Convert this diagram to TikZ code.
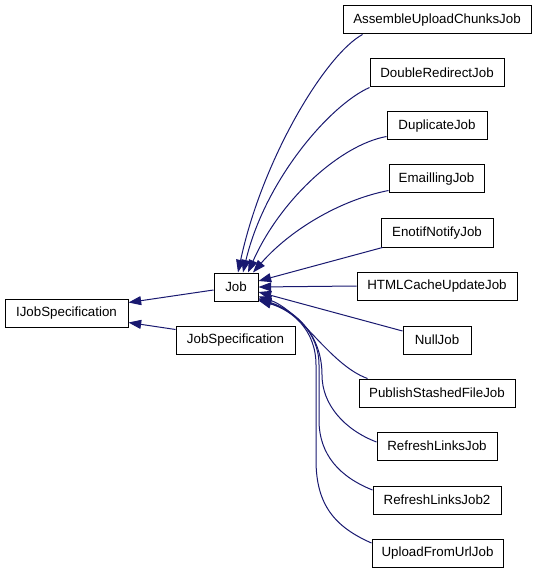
\documentclass[tikz,border=0pt]{standalone}
\usepackage{fontspec}
\setmainfont{Liberation Sans}
\usetikzlibrary{arrows.meta,calc}
\definecolor{edgeblue}{HTML}{191970}
\begin{document}
\begin{tikzpicture}[x=0.75pt,y=-0.75pt,
  box/.style={draw=black,line width=0.75pt,fill=white,inner sep=0pt,minimum height=21pt,font=\fontsize{10pt}{12pt}\selectfont},
  bw/.style={minimum width=#1*0.75pt},
  edge/.style={draw=edgeblue,line width=0.75pt,-{Triangle[length=9.5pt,width=6.75pt]}}]
\useasboundingbox (0,0) rectangle (536,573);
% nodes
\node[box,bw=123] (ijob) at (66.5,313) {IJobSpecification};
\node[box,bw=44] (job) at (236,287) {Job};
\node[box,bw=119] (jobspec) at (235.5,340) {JobSpecification};
\node[box,bw=188] (assemble) at (437,20) {AssembleUploadChunksJob};
\node[box,bw=134] (double) at (437,73) {DoubleRedirectJob};
\node[box,bw=100] (duplicate) at (437,126) {DuplicateJob};
\node[box,bw=95] (emailling) at (436.5,179) {EmaillingJob};
\node[box,bw=112] (enotif) at (437,233) {EnotifNotifyJob};
\node[box,bw=160] (html) at (437,286) {HTMLCacheUpdateJob};
\node[box,bw=68] (null) at (437,340) {NullJob};
\node[box,bw=156] (publish) at (437,393) {PublishStashedFileJob};
\node[box,bw=120] (refresh) at (437,446) {RefreshLinksJob};
\node[box,bw=128] (refresh2) at (437,500) {RefreshLinksJob2};
\node[box,bw=131] (upload) at (437.5,553) {UploadFromUrlJob};
% edges to IJobSpecification
\draw[edge] ($(job.west)+(0,3)$) -- ($(ijob.north east)+(0,4)$);
\draw[edge] ($(jobspec.north west)+(0,4)$) -- ($(ijob.south east)+(0,-5)$);
% edges to Job (upper)
\draw[edge] ($(assemble.south west)+(20,0)$) .. controls (325,55) and (262,160) .. ($(job.north)+(2,0)$);
\draw[edge] (double.south west) .. controls (330,105) and (265,180) .. ($(job.north)+(7,0)$);
\draw[edge] ($(duplicate.south west)+(0,-4)$) .. controls (340,145) and (280,200) .. ($(job.north)+(12,0)$);
\draw[edge] ($(emailling.south west)+(0,-3)$) .. controls (340,200) and (290,230) .. ($(job.north)+(17,0)$);
\draw[edge] ($(enotif.south west)+(2,0)$) -- ($(job.east)+(0,-6)$);
\draw[edge] (html.west) -- (job.east);
\draw[edge] ($(null.west)+(0,-9)$) -- ($(job.east)+(0,5)$);
% edges to Job (lower)
\draw[edge] ($(publish.north west)+(9,0)$) .. controls (330,365) and (300,310) .. ($(job.south east)+(0,-5)$);
\draw[edge] ($(refresh.west)+(0,-4)$) .. controls (345,430) and (322,405) .. (322,375)
  .. controls (322,335) and (296,311) .. ($(job.south east)+(0,-3)$);
\draw[edge] ($(refresh2.west)+(0,-10)$) .. controls (340,477) and (319,455) .. (319,420) -- (319,365)
  .. controls (319,332) and (294,311) .. ($(job.south east)+(0,-2)$);
\draw[edge] ($(upload.west)+(0,-10)$) .. controls (335,527) and (316,505) .. (316,460) -- (316,365)
  .. controls (316,330) and (292,310) .. ($(job.south east)+(0,-1)$);
\end{tikzpicture}
\end{document}
